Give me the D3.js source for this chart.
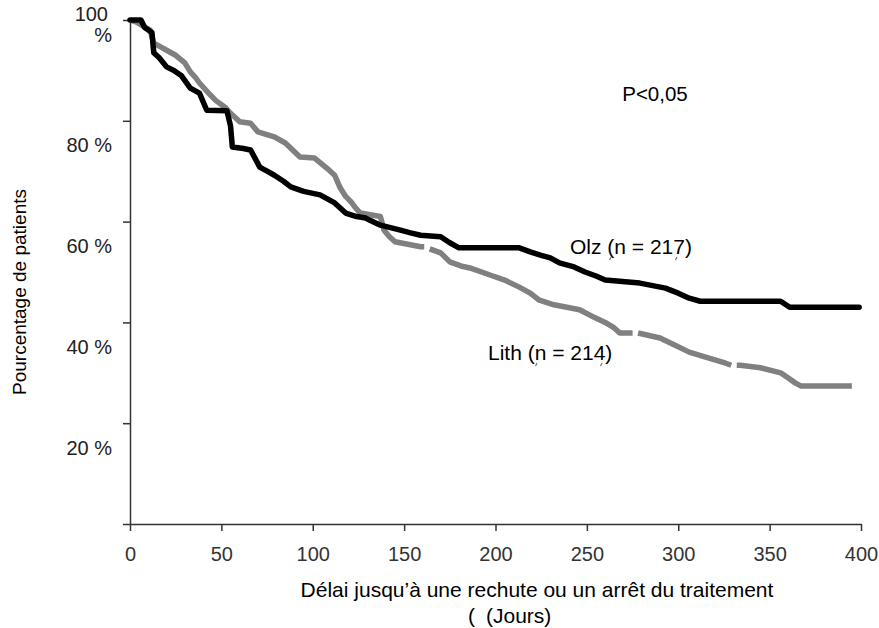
<!DOCTYPE html>
<html>
<head>
<meta charset="utf-8">
<script src="https://cdn.jsdelivr.net/npm/d3@7"></script>
<style>
  html, body { margin: 0; padding: 0; background: #fff; }
  svg { display: block; font-family: "Liberation Sans", Arial, sans-serif; }
</style>
</head>
<body>
<div id="chart"></div>
<script>
// Olanzapine (black)
const olzDays = [0, 6, 8, 12, 13, 16, 20, 24, 28, 33, 38, 42, 53, 55, 56, 62, 66, 71, 75, 79, 84, 88, 95, 104, 108, 112, 118, 124, 129, 131, 137, 148, 153, 159, 170, 175, 180, 213, 219, 225, 230, 235, 243, 249, 255, 260, 279, 293, 300, 306, 312, 356, 361, 399];
const olzPct = [100, 100, 98.5, 97.5, 93.5, 92.5, 90.7, 90, 89, 86.5, 85.5, 82.1, 82, 79, 74.8, 74.5, 74.2, 70.8, 70, 69.2, 68, 66.9, 66, 65.3, 64.5, 63.7, 61.7, 61, 60.7, 60.3, 59.3, 58.3, 57.8, 57.3, 57, 55.8, 54.8, 54.8, 54, 53.3, 52.8, 51.8, 51, 50, 49.2, 48.4, 47.8, 46.8, 45.8, 44.8, 44.2, 44.2, 43, 43];

// Lithium (grey); null = break in the printed curve
const lithDays = [0, 4, 11, 13, 17, 21, 25, 30, 33, 36, 38, 43, 47, 52, 55, 58, 60, 66, 70, 79, 85, 89, 93, 101, 107, 109, 112, 115, 118, 121, 123, 126, 137, 139, 142, 145, 159, 161, 162, 164, 170, 175, 181, 186, 197, 205, 213, 219, 224, 232, 246, 254, 260, 265, 268, 275, 276, 278, 290, 298, 306, 315, 326, 329, 330, 332, 334, 345, 356, 360, 364, 367, 395];
const lithPct = [100, 99.5, 98, 95.4, 94.6, 93.8, 93, 91.5, 89.7, 88.5, 87.5, 85.5, 84, 82.7, 81.5, 80.5, 79.8, 79.5, 77.8, 76.8, 75.6, 74.2, 72.8, 72.6, 70.8, 70.2, 69.2, 66.7, 65, 63.9, 62.9, 61.7, 61, 58.3, 57, 56, 55, 55, null, 54.6, 53.8, 52, 51.2, 50.8, 49.4, 48.4, 47, 45.8, 44.4, 43.5, 42.5, 41, 40, 38.9, 37.9, 37.9, null, 37.9, 36.9, 35.5, 34.1, 33.1, 31.9, 31.5, null, 31.5, 31.5, 31, 30, 29, 28, 27.4, 27.4];

const xTicks = [0, 50, 100, 150, 200, 250, 300, 350, 400];
const yTicks = [0, 20, 40, 60, 80, 100];

const width = 879;
const height = 628;

const svg = d3.select("#chart")
  .append("svg")
  .attr("width", width)
  .attr("height", height);

const x = d3.scaleLinear().domain([0, 400]).range([130, 861]);
const y = d3.scaleLinear().domain([0, 100]).range([524, 20]);

// axes
const xAxis = svg.append("g")
  .attr("transform", `translate(0,${y(0)})`)
  .call(d3.axisBottom(x).tickValues(xTicks).tickSize(7).tickSizeOuter(0).tickPadding(16));

const yAxis = svg.append("g")
  .attr("transform", `translate(${x(0)},0)`)
  .call(d3.axisLeft(y).tickValues(yTicks).tickSize(7).tickSizeOuter(0).tickPadding(11)
    .tickFormat(d => d === 0 ? "" : d + " %"));

[xAxis, yAxis].forEach(a => {
  a.select(".domain").attr("stroke", "#333").attr("stroke-width", 1.5);
  a.selectAll(".tick line").attr("stroke", "#333").attr("stroke-width", 1.5);
  a.selectAll(".tick text").attr("font-size", "20px").attr("font-family", "Liberation Sans, Arial, sans-serif");
});
xAxis.selectAll(".tick text").attr("fill", "#333");
yAxis.selectAll(".tick text").attr("fill", "#222");

// y labels sit below their ticks in the original
yAxis.selectAll(".tick text")
  .filter(d => d !== 100)
  .attr("y", 24.5);

const topLabel = yAxis.selectAll(".tick text").filter(d => d === 100);
topLabel.text(null);
topLabel.append("tspan").attr("x", -22).attr("dy", "0.0em").text("100");
topLabel.append("tspan").attr("x", -18).attr("dy", "1.05em").text("%");

function toPoints(days, pcts) {
  return days.map((d, i) => ({ day: d, pct: pcts[i] }));
}

const line = d3.line()
  .defined(d => d.pct != null)
  .x(d => x(d.day))
  .y(d => y(d.pct));

const curves = svg.append("g")
  .attr("fill", "none")
  .attr("stroke-width", 5.5)
  .attr("stroke-linejoin", "round");

curves.append("path")
  .datum(toPoints(lithDays, lithPct))
  .attr("stroke", "#808080")
  .attr("stroke-linecap", "butt")
  .attr("d", line);

curves.append("path")
  .datum(toPoints(olzDays, olzPct))
  .attr("stroke", "#000")
  .attr("stroke-linecap", "round")
  .attr("d", line);

// annotations
svg.append("text")
  .attr("x", 655).attr("y", 94).attr("dy", "0.35em")
  .attr("text-anchor", "middle")
  .attr("font-size", "20.5px")
  .text("P<0,05");

svg.append("text")
  .attr("x", 570).attr("y", 247).attr("dy", "0.35em")
  .attr("font-size", "21px")
  .text("Olz (n = 217)");

svg.append("text")
  .attr("x", 488).attr("y", 353).attr("dy", "0.35em")
  .attr("font-size", "21px")
  .text("Lith (n = 214)");

// tiny stray marks printed under the labels in the original
const strays = [[611, 257], [677, 257], [537, 363], [602, 363]];
svg.append("g")
  .attr("stroke", "#777")
  .attr("stroke-width", 1.2)
  .selectAll("line")
  .data(strays)
  .join("line")
  .attr("x1", d => d[0]).attr("y1", d => d[1])
  .attr("x2", d => d[0] - 1.5).attr("y2", d => d[1] + 3);

// axis titles
svg.append("text")
  .attr("x", 537).attr("y", 590).attr("dy", "0.35em")
  .attr("text-anchor", "middle")
  .attr("font-size", "21px")
  .text("Délai jusqu’à une rechute ou un arrêt du traitement");

const jours = svg.append("text")
  .attr("y", 616).attr("dy", "0.35em")
  .attr("font-size", "21px");
jours.append("tspan").attr("x", 468).text("(");
jours.append("tspan").attr("x", 486).text("(Jours)");

svg.append("text")
  .attr("transform", "translate(25.5,292) rotate(-90)")
  .attr("text-anchor", "middle")
  .attr("font-size", "19px")
  .text("Pourcentage de patients");
</script>
</body>
</html>
